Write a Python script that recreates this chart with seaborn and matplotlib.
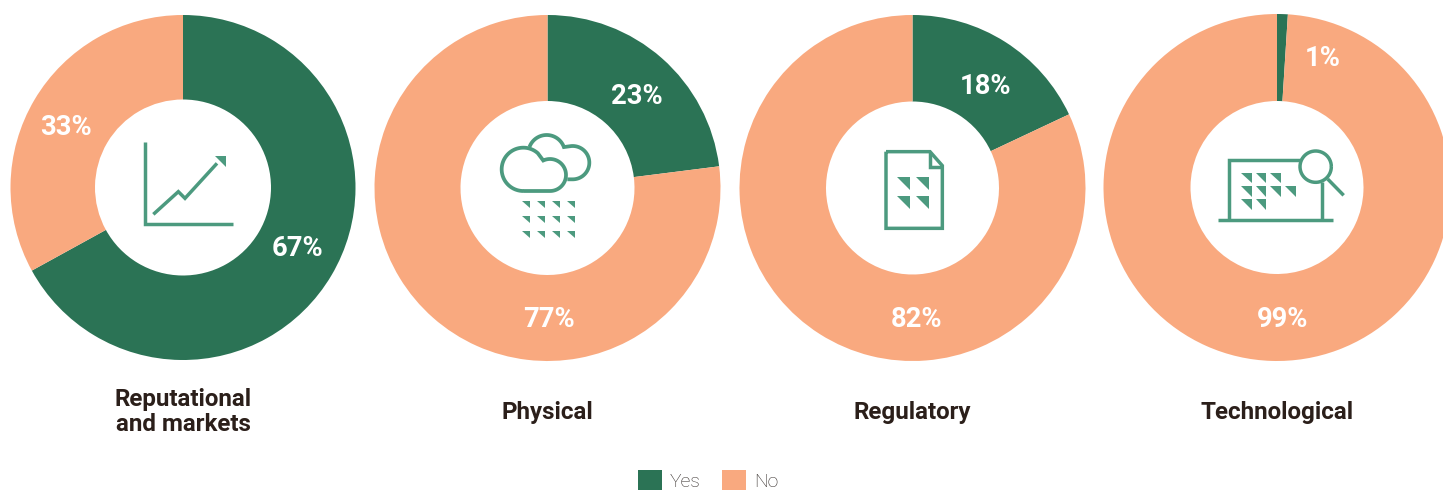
import numpy as np
import matplotlib
matplotlib.use("Agg")
import matplotlib.pyplot as plt
from matplotlib.patches import Polygon, Patch
import seaborn as sns

# ---- data ----
categories = ["Reputational\nand markets", "Physical", "Regulatory", "Technological"]
yes_values = [67, 23, 18, 1]
no_values = [33, 77, 82, 99]
series_names = ["Yes", "No"]

sns.set_theme(style="white")
plt.rcParams["font.family"] = ["Roboto", "DejaVu Sans"]

GREEN, PEACH, ICON, INK, GREY = "#2B7355", "#F9A97F", "#4C9A7F", "#2B1F1A", "#2F2825"
W, H = 1443, 490
fig = plt.figure(figsize=(W / 100, H / 100), dpi=100, facecolor="white")

centers = [(183, 187.5), (547.5, 188), (912.5, 188), (1277, 187.5)]
radii = [172.5, 173, 173, 173.5]
holes = [88, 87, 86.5, 86.5]
yes_lab = [(297, 248), (637, 96), (985, 86), (1323, 58)]
no_lab = [(66, 127), (549, 319), (917, 319), (1283, 319)]

HALF = 186
for (cx, cy), r, h, y, n in zip(centers, radii, holes, yes_values, no_values):
    ax = fig.add_axes([(cx - HALF) / W, 1 - (cy + HALF) / H, 2 * HALF / W, 2 * HALF / H])
    ax.patch.set_alpha(0)
    ax.pie([y, n], colors=[GREEN, PEACH], startangle=90, counterclock=False,
           radius=r, wedgeprops=dict(width=r - h, linewidth=0))
    ax.set_xlim(-HALF, HALF)
    ax.set_ylim(-HALF, HALF)
    ax.set_aspect("equal")
    ax.axis("off")

# overlay in reference pixel coordinates for annotations and icons
ov = fig.add_axes([0, 0, 1, 1])
ov.set_xlim(0, W)
ov.set_ylim(H, 0)
ov.axis("off")
ov.patch.set_alpha(0)

for (x, y), v in zip(yes_lab, yes_values):
    ov.text(x, y, f"{v}%", color="white", fontsize=19.7, fontweight="bold", ha="center", va="center")
for (x, y), v in zip(no_lab, no_values):
    ov.text(x, y, f"{v}%", color="white", fontsize=19.7, fontweight="bold", ha="center", va="center")
for (cx, _), c in zip(centers, categories):
    ov.text(cx, 412, c, color=INK, fontsize=17.4, fontweight="bold", ha="center", va="center",
            linespacing=1.09)

LW = 2.5

def line(pts, ox, oy, s=3.0, lw=LW, close=False):
    p = [(ox + a / s, oy + b / s) for a, b in pts]
    if close:
        p.append(p[0])
    xs, ys = zip(*p)
    ov.plot(xs, ys, color=ICON, lw=lw, solid_joinstyle="miter", solid_capstyle="butt")

def tri(x, y, size, ox, oy, s=3.0):
    ov.add_patch(Polygon([(ox + x / s, oy + y / s), (ox + (x + size) / s, oy + y / s),
                          (ox + (x + size) / s, oy + (y + size) / s)], closed=True,
                         fc=ICON, ec="none"))

def arc(cx, cy, r, a0, a1):
    t = np.radians(np.linspace(a0, a1, 50))
    return list(zip(cx + r * np.cos(t), cy + r * np.sin(t)))

# icon 1: chart
line([(74, 65), (74, 313), (340, 313)], 120, 120)
line([(100, 283), (175, 215), (195, 235), (291, 130)], 120, 120)
ov.add_patch(Polygon([(215, 156), (225.5, 156), (225.5, 167)], closed=True, fc=ICON, ec="none"))

# icon 2: clouds + rain
front = arc(100, 148, 65, 90, 312) + arc(180, 165, 48, 245, 450)
line(front, 490, 120, close=True, lw=2.7)
back = arc(170, 100, 55, 200, 340) + arc(248, 128, 50, 265, 450) + [(232, 178)]
line(back, 490, 120, lw=2.7)
for by in (242, 288, 333):
    for bx in (97, 142, 187, 232):
        tri(bx, by, 22, 490, 120)

# icon 3: document
line([(78, 50), (210, 50), (247, 92), (247, 280), (78, 280)], 860, 135, close=True)
line([(210, 50), (210, 95), (247, 95)], 860, 135)
for by in (125, 182):
    for bx in (110, 167):
        tri(bx, by, 40, 860, 135)

# icon 4: laptop + magnifier
line([(38, 256), (385, 256)], 1205, 135)
line([(72, 256), (72, 75), (287, 75)], 1205, 135)
line([(352, 142), (352, 256)], 1205, 135)
line(arc(332, 95, 47, 0, 360), 1205, 135)
line([(368, 132), (416, 181)], 1205, 135)
for by, xs_ in ((113, (108, 152, 196)), (153, (108, 152, 196, 240)), (193, (108, 152))):
    for bx in xs_:
        tri(bx, by, 32, 1205, 135)

# legend
handles = [Patch(fc=GREEN, ec="none"), Patch(fc=PEACH, ec="none")]
leg = fig.legend(handles, series_names, loc="center", bbox_to_anchor=(708 / W, 1 - 480.5 / H),
                 ncol=2, frameon=False, handlelength=1.24, handleheight=1.3,
                 handletextpad=0.41, columnspacing=1.14, borderpad=0, borderaxespad=0,
                 labelcolor=GREY, prop=dict(family="Roboto", weight="light", size=13.9))

fig.savefig("out.png", dpi=100, facecolor="white")
